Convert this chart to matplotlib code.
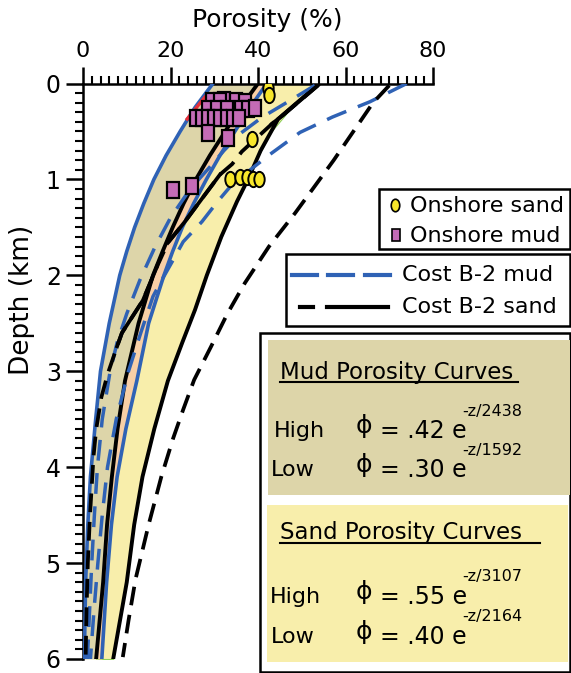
import numpy as np

import matplotlib
matplotlib.use("Agg")
import matplotlib.pyplot as plt  # noqa: E402
from matplotlib.lines import Line2D  # noqa: E402
from matplotlib.patches import Rectangle  # noqa: E402
from matplotlib.markers import MarkerStyle  # noqa: E402
from matplotlib.transforms import Affine2D  # noqa: E402

# ---- curves: depth (km) / porosity (%) ----
mud_low_z = [0, 0.25, 0.5, 0.75, 1.0, 1.25, 1.5, 1.75, 2.0, 2.5, 3.0, 3.5,
             4.1, 4.6, 5.2, 6.0]
mud_low_phi = [29.7, 25.6, 22.2, 19.0, 16.2, 13.9, 11.8, 10.0, 8.4, 6.0, 4.0,
               2.9, 1.7, 1.1, 0.6, 0.3]

mud_high_z = [0, 0.25, 0.5, 0.75, 1.0, 1.25, 1.5, 1.75, 2.0, 2.5, 3.1, 3.6,
              4.1, 4.6, 5.2, 6.0]
mud_high_phi = [42, 38.2, 34.7, 31.3, 28.2, 25.3, 22.7, 20.5, 18.5, 15.0, 12.3,
                9.8, 7.8, 6.5, 5.4, 4.3]

sand_low_z = [0, 0.25, 0.5, 0.75, 1.0, 1.25, 1.5, 1.75, 2.0, 2.5, 3.1, 3.6,
              4.1, 4.6, 5.2, 6.0]
sand_low_phi = [40, 36, 32.5, 29.0, 25.8, 23.0, 20.5, 18.2, 16.0, 12.7, 9.6,
                7.9, 6.6, 5.5, 4.6, 3.0]

sand_high_z = [0, 0.15, 0.37, 0.7, 1.0, 1.23, 1.6, 2.0, 2.36, 2.7, 3.1, 3.6,
               4.1, 4.6, 5.2, 6.0]
sand_high_phi = [54, 50.2, 44.6, 40.6, 37.7, 35.2, 31.6, 28.3, 25.6, 22.7,
                 19.4, 16.3, 13.6, 11.7, 10.0, 6.9]

# Cost B-2 mud (blue dashed)
b2_mud1_z = [0, 0.19, 0.35, 0.51, 0.74, 1.04, 1.24, 1.44, 1.65, 1.84, 2.05,
             2.22, 2.6, 3.0, 3.5, 4.0, 4.5, 5.0, 5.5, 6.0]
b2_mud1_phi = [74, 65.6, 57, 49.6, 42.7, 34.3, 30.6, 27.2, 22.9, 20.6, 18,
               16, 13.2, 10.4, 7.6, 5.6, 4.4, 3.4, 2.5, 1.7]
b2_mud2_z = [0.02, 0.2, 0.35, 0.52, 0.7, 0.87, 1.1, 1.4, 1.7, 2.05, 2.4, 2.7,
             3.0, 3.5, 4.0, 4.5, 5.0, 5.5, 6.0]
b2_mud2_phi = [53, 46.5, 41, 36, 32.2, 29, 24.5, 20, 16.5, 13, 10, 7.8,
               6.2, 4.4, 3.3, 2.6, 2.0, 1.5, 1.0]

# Cost B-2 sand (black)
b2_sand1_z = [0.02, 0.2, 0.5, 0.8, 1.05, 1.35, 1.7, 2.08, 2.4, 2.74, 3.09,
              3.4, 3.7, 4.1, 4.6, 5.17, 5.6, 5.98]
b2_sand1_phi = [70, 66.3, 61.8, 57.3, 53.3, 48.5, 42.5, 37, 33, 29.3, 25.4,
                22.9, 20.6, 17.9, 15.0, 12.0, 10.4, 9.1]
b2_sand2_z = [0.02, 0.33, 0.42, 0.71, 0.84, 0.95, 1.2, 1.44, 1.66, 1.91, 2.26,
              2.6, 2.74, 3.02, 3.27, 3.61, 3.89, 4.5, 5.0, 5.5, 6.0]
b2_sand2_phi = [53.7, 45.7, 43.2, 36.3, 34.1, 31.3, 27.2, 23.3, 19.4, 16.9,
                13.7, 8.9, 7.8, 5.7, 4.2, 3.0, 2.4, 1.6, 1.1, 0.8, 0.6]
b2_sand2_solid = [(0, 2), (5, 8), (9, 12)]     # index ranges drawn solid

red_z = [0.14, 0.37]
red_phi = [27.9, 23.8]

# onshore samples
sand_pts_z = [0.05, 0.12, 0.58, 0.995, 0.97, 0.97, 1.0, 1.0]
sand_pts_phi = [42.3, 42.5, 38.6, 33.6, 35.9, 37.5, 38.9, 40.2]
mud_pts_z = [0.17, 0.18, 0.18, 0.18, 0.19,
             0.27, 0.27, 0.27, 0.27, 0.27, 0.26,
             0.36, 0.36, 0.36, 0.36, 0.36, 0.36, 0.36, 0.36,
             0.52, 0.57, 1.11, 1.07]
mud_pts_phi = [32.2, 29.5, 31.2, 35.0, 37.0,
               28.5, 30.6, 33.0, 36.2, 37.8, 39.3,
               25.8, 27.2, 28.6, 30.0, 31.4, 32.8, 34.2, 35.6,
               28.6, 33.1, 20.6, 24.9]

x_ticks = [0, 20, 40, 60, 80]
y_ticks = [0, 1, 2, 3, 4, 5, 6]

eq_rows = [("High", ".42", "-z/2438"), ("Low", ".30", "-z/1592"),
           ("High", ".55", "-z/3107"), ("Low", ".40", "-z/2164")]

TAN, YEL, PEACH = "#ddd5a9", "#f8eeab", "#f8cfa6"
BLUE = "#2f62b5"
W, H = 571, 673


def fx(px):
    return px / W


def fy(py):
    return 1 - py / H


fig = plt.figure(figsize=(W / 100, H / 100), dpi=100)
ax = fig.add_axes([fx(83), fy(659), 350 / W, 575.5 / H])

# bands: mud (tan), sand (yellow), overlap (peach)
ax.fill_betweenx(mud_low_z, mud_low_phi,
                 np.interp(mud_low_z, mud_high_z, mud_high_phi),
                 color=TAN, lw=0, zorder=1)
ax.fill_betweenx(sand_low_z, sand_low_phi,
                 np.interp(sand_low_z, sand_high_z, sand_high_phi),
                 facecolor=YEL, edgecolor="#8fcf5a", lw=0.8, zorder=1.2)
ax.fill_betweenx(sand_low_z, sand_low_phi,
                 np.interp(sand_low_z, mud_high_z, mud_high_phi),
                 color=PEACH, lw=0, zorder=1.4)

# band edges
ax.plot(mud_low_phi, mud_low_z, color=BLUE, lw=2.6, zorder=3)
ax.plot(mud_high_phi, mud_high_z, color=BLUE, lw=2.6, zorder=3)
ax.plot(sand_low_phi, sand_low_z, color="k", lw=2.8, zorder=3)
ax.plot(sand_high_phi, sand_high_z, color="k", lw=2.8, zorder=3)
ax.plot(red_phi, red_z, color="#e8303a", lw=2.4, zorder=3.1)

# Cost B-2
bdash = (0, (6, 3.6))
kdash = (0, (5, 2.6))
ax.plot(b2_mud1_phi, b2_mud1_z, color=BLUE, lw=2.5, ls=bdash, zorder=3.2)
ax.plot(b2_mud2_phi, b2_mud2_z, color=BLUE, lw=2.5, ls=bdash, zorder=3.2)
ax.plot(b2_sand1_phi, b2_sand1_z, color="k", lw=2.7, ls=kdash, zorder=3.3)
ax.plot(b2_sand2_phi, b2_sand2_z, color="k", lw=2.7, ls=kdash, zorder=3.3)
for i0, i1 in b2_sand2_solid:
    ax.plot(b2_sand2_phi[i0:i1 + 1], b2_sand2_z[i0:i1 + 1], color="k", lw=2.7,
            zorder=3.3)

ell = MarkerStyle("o", transform=Affine2D().scale(0.68, 1.0))
sq = MarkerStyle("s", transform=Affine2D().scale(0.85, 1.0))
ax.plot(mud_pts_phi, mud_pts_z, ls="none", marker=sq, ms=11, mfc="#c46bb6",
        mec="k", mew=1.6, zorder=4)
ax.plot(sand_pts_phi, sand_pts_z, ls="none", marker=ell, ms=11, mfc="#f7e62b",
        mec="k", mew=1.4, zorder=4)

ax.set_xlim(0, 80)
ax.set_ylim(6, 0)
ax.xaxis.tick_top()
ax.set_xticks(x_ticks)
ax.set_xticks(range(0, 81, 2), minor=True)
ax.set_yticks(y_ticks)
ax.set_yticks([i / 10 for i in range(61)], minor=True)
ax.tick_params(which="major", length=12, width=1.8, pad=4)
ax.tick_params(axis="x", which="major", labelsize=16)
ax.tick_params(axis="y", which="major", labelsize=17)
ax.tick_params(which="minor", length=6, width=1.5)
ax.tick_params(axis="x", which="both", top=True, bottom=False, direction="out")
for s in ("right", "bottom"):
    ax.spines[s].set_visible(False)
for s in ("top", "left"):
    ax.spines[s].set_linewidth(1.8)
ax.patch.set_alpha(0)

fig.text(fx(267), fy(20), "Porosity (%)", ha="center", va="center", fontsize=18)
fig.text(fx(22), fy(300), "Depth (km)", ha="center", va="center", fontsize=19,
         rotation=90)


def box(x0, y0, x1, y1, **kw):
    fig.add_artist(Rectangle((fx(x0), fy(y1)), (x1 - x0) / W, (y1 - y0) / H,
                             transform=fig.transFigure, **kw))


def hline(x0, x1, y, **kw):
    fig.add_artist(Line2D([fx(x0), fx(x1)], [fy(y), fy(y)],
                          transform=fig.transFigure, **kw))


# onshore legend
box(379, 189, 570, 249, facecolor="white", edgecolor="k", lw=1.8)
fig.add_artist(Line2D([fx(395)], [fy(205)], marker=ell, ms=9, mfc="#f7e62b",
                      mec="k", mew=1.2, transform=fig.transFigure))
fig.add_artist(Line2D([fx(396)], [fy(235)], marker=MarkerStyle(
    "s", transform=Affine2D().scale(0.6, 1.0)), ms=9, mfc="#c46bb6", mec="k",
    mew=1.2, transform=fig.transFigure))
fig.text(fx(410), fy(206), "Onshore sand", va="center", fontsize=16)
fig.text(fx(410), fy(236), "Onshore mud", va="center", fontsize=16)

# Cost B-2 legend
box(286, 254, 570, 326, facecolor="white", edgecolor="k", lw=1.8)
for a, b in ((292, 317), (328, 353), (365, 390)):
    hline(a, b, 275, color=BLUE, lw=3)
hline(300, 313, 307, color="k", lw=3)
hline(327, 388, 307, color="k", lw=3)
fig.text(fx(402), fy(275), "Cost B-2 mud", va="center", fontsize=16)
fig.text(fx(402), fy(307), "Cost B-2 sand", va="center", fontsize=16)

# equation panel
box(260, 333, 570, 672, facecolor="white", edgecolor="k", lw=1.8)
box(268, 340, 570, 495, facecolor=TAN, edgecolor="none")
box(267, 505, 568, 662, facecolor=YEL, edgecolor="none")
fig.text(fx(280), fy(373), "Mud Porosity Curves", va="center", fontsize=16.5)
hline(280, 518, 382, color="k", lw=1.5)
fig.text(fx(280), fy(533), "Sand Porosity Curves", va="center", fontsize=16.5)
hline(280, 540, 543, color="k", lw=1.5)

row_y = [431, 470, 597, 637]
row_x = [274, 271, 270, 271]
for (lab, coef, expo), y, x in zip(eq_rows, row_y, row_x):
    fig.text(fx(x), fy(y), lab, va="center", fontsize=16)
    fig.text(fx(356), fy(y - 5), "\u03d5", va="center", fontsize=18)
    fig.text(fx(380), fy(y), "= " + coef + " e", va="center", fontsize=17)
    fig.text(fx(462), fy(y - 20), expo, va="center", fontsize=11.5)

fig.savefig("out.png", dpi=100)
